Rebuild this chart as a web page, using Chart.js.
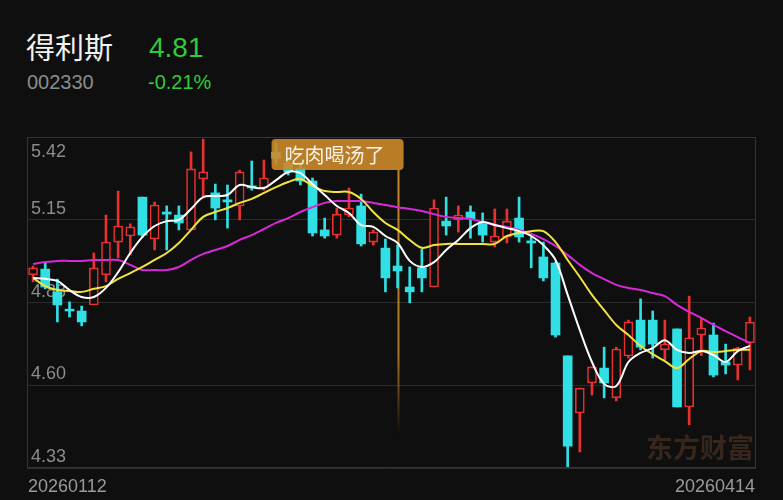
<!DOCTYPE html>
<html><head><meta charset="utf-8">
<script src="https://cdn.jsdelivr.net/npm/chart.js@4/dist/chart.umd.min.js"></script>
<style>
html,body{margin:0;padding:0;background:#0f0f0f;}
#wrap{position:relative;width:783px;height:500px;overflow:hidden;background:#0f0f0f;font-family:"Noto Sans CJK SC","Noto Sans",sans-serif;}
#c{position:absolute;left:0;top:0;}
.t{position:absolute;white-space:nowrap;line-height:1;}
</style></head><body>
<div id="wrap">
<div class="t" style="left:26px;top:32px;font-size:29px;color:#f2f2f2;">得利斯</div>
<div class="t" style="left:149px;top:34px;font-size:28px;color:#2fcb38;font-family:'Liberation Sans',Arial,sans-serif;">4.81</div>
<div class="t" style="left:27px;top:72px;font-size:20px;color:#8c8c8c;font-family:'Liberation Sans',Arial,sans-serif;">002330</div>
<div class="t" style="left:148px;top:72px;font-size:20px;color:#2fcb38;font-family:'Liberation Sans',Arial,sans-serif;">-0.21%</div>
<canvas id="c" width="783" height="500"></canvas>
</div>
<script>
const dates = ['20260112','20260113','20260114','20260115','20260116','20260119','20260120','20260121','20260122','20260123',
'20260126','20260127','20260128','20260129','20260130','20260202','20260203','20260204','20260205','20260206',
'20260209','20260210','20260211','20260212','20260213','20260224','20260225','20260226','20260227','20260302',
'20260303','20260304','20260305','20260306','20260309','20260310','20260311','20260312','20260313','20260316',
'20260317','20260318','20260319','20260320','20260323','20260324','20260325','20260326','20260327','20260330',
'20260331','20260401','20260402','20260403','20260407','20260408','20260409','20260410','20260413','20260414'];

const opens  = [4.966,4.985,4.910,4.853,4.847,4.867,4.966,5.074,5.094,5.222,
                5.084,5.173,5.163,5.114,5.282,5.236,5.213,5.193,5.259,5.252,
                5.370,5.334,5.318,5.275,5.114,5.097,5.163,5.193,5.074,5.054,
                4.995,4.926,4.989,4.926,5.143,5.147,5.173,5.137,5.074,5.091,
                5.153,5.078,5.025,5.005,4.699,4.511,4.610,4.659,4.561,4.699,
                4.817,4.817,4.719,4.788,4.531,4.768,4.768,4.679,4.669,4.742];
const highs  = [4.995,5.005,4.952,4.877,4.863,5.038,5.163,5.242,5.134,5.222,
                5.206,5.193,5.193,5.371,5.413,5.265,5.262,5.311,5.341,5.344,
                5.400,5.350,5.328,5.285,5.153,5.186,5.252,5.232,5.114,5.084,
                5.064,4.992,5.051,5.213,5.222,5.193,5.193,5.170,5.183,5.183,
                5.222,5.091,5.074,5.008,4.699,4.593,4.663,4.728,4.728,4.817,
                4.887,4.847,4.817,4.788,4.896,4.824,4.807,4.738,4.728,4.827];
const lows   = [4.943,4.920,4.811,4.827,4.798,4.867,4.943,5.022,5.031,5.090,
                5.048,5.048,5.114,5.114,5.219,5.147,5.120,5.147,5.245,5.245,
                5.330,5.295,5.262,5.094,5.087,5.087,5.157,5.061,5.064,4.910,
                4.923,4.874,4.910,4.926,5.097,5.107,5.087,5.074,5.058,5.071,
                5.074,4.989,4.946,4.761,4.333,4.383,4.570,4.561,4.551,4.692,
                4.719,4.692,4.686,4.531,4.472,4.700,4.630,4.640,4.620,4.653];
const closes = [4.989,4.926,4.867,4.847,4.811,4.989,5.074,5.127,5.124,5.097,
                5.196,5.166,5.137,5.315,5.305,5.186,5.206,5.305,5.252,5.285,
                5.350,5.305,5.275,5.104,5.094,5.166,5.186,5.068,5.107,4.956,
                4.979,4.910,4.956,5.186,5.127,5.163,5.150,5.097,5.094,5.143,
                5.091,5.071,4.956,4.768,4.402,4.593,4.663,4.610,4.722,4.811,
                4.728,4.738,4.738,4.531,4.759,4.791,4.636,4.669,4.725,4.810];

const ma5  = [4.956,4.953,4.946,4.916,4.893,4.893,4.923,4.975,5.038,5.091,
              5.127,5.143,5.147,5.183,5.222,5.226,5.229,5.262,5.255,5.252,
              5.278,5.305,5.301,5.265,5.229,5.193,5.170,5.130,5.124,5.094,
              5.071,5.012,4.992,5.008,5.048,5.081,5.120,5.140,5.130,5.120,
              5.110,5.094,5.064,5.015,4.900,4.784,4.679,4.607,4.600,4.679,
              4.709,4.725,4.751,4.719,4.709,4.715,4.702,4.679,4.715,4.732];
const ma10 = [4.956,4.929,4.916,4.913,4.910,4.920,4.929,4.953,4.972,4.992,
              5.015,5.038,5.071,5.114,5.157,5.173,5.186,5.203,5.216,5.236,
              5.255,5.272,5.282,5.259,5.242,5.239,5.239,5.216,5.173,5.137,
              5.114,5.081,5.055,5.064,5.068,5.068,5.068,5.068,5.068,5.094,
              5.104,5.110,5.110,5.074,5.015,4.959,4.900,4.850,4.801,4.768,
              4.732,4.705,4.682,4.659,4.689,4.715,4.712,4.715,4.719,4.719];
const ma20 = [5.002,5.008,5.012,5.012,5.012,5.015,5.015,5.015,4.999,4.982,
              4.982,4.982,4.992,5.015,5.035,5.048,5.061,5.081,5.097,5.117,
              5.137,5.153,5.173,5.189,5.203,5.209,5.209,5.209,5.203,5.196,
              5.189,5.183,5.176,5.166,5.157,5.153,5.150,5.140,5.130,5.124,
              5.114,5.101,5.084,5.061,5.031,4.999,4.972,4.952,4.933,4.923,
              4.916,4.906,4.896,4.867,4.844,4.824,4.801,4.781,4.761,4.742];

const yTicks = [5.42, 5.1475, 4.875, 4.6025, 4.33];
const yTickLabels = ['5.42','5.15','4.88','4.60','4.33'];
const markIndex = 30;
const markText = '吃肉喝汤了';
const watermark = '东方财富';

const UP = '#e8312f', DOWN = '#30e0e4', BG = '#0f0f0f';
const isUp = closes.map((c,i)=>c>=opens[i]);
const wickData = lows.map((l,i)=>[l,highs[i]]);
const bodyData = opens.map((o,i)=>[o,closes[i]]);

const decor = {
  id:'decor',
  beforeDatasetsDraw(chart){
    const {ctx, chartArea:a, scales} = chart;
    const y = scales.y, x = scales.x;
    ctx.save();
    ctx.font = 'bold 27px "Noto Sans CJK SC"';
    ctx.fillStyle = '#36261b';
    ctx.textAlign = 'right'; ctx.textBaseline = 'alphabetic';
    ctx.fillText(watermark, a.right - 2, a.bottom - 10);
    ctx.font = '18px "Liberation Sans", Arial, sans-serif';
    ctx.fillStyle = '#8c8c8c';
    ctx.textAlign = 'left';
    yTicks.forEach((v,i)=>{
      const py = y.getPixelForValue(v);
      const by = i===0 ? py + 20 : py - 6;
      ctx.fillText(yTickLabels[i], a.left + 4, by);
    });
    const mx = Math.round(x.getPixelForValue(markIndex)) + 0.5;
    const g = ctx.createLinearGradient(0, a.top + 33, 0, a.bottom - 35);
    g.addColorStop(0, 'rgba(200,135,40,1)');
    g.addColorStop(0.7, 'rgba(200,135,40,0.85)');
    g.addColorStop(1, 'rgba(200,135,40,0)');
    ctx.strokeStyle = g; ctx.lineWidth = 2;
    ctx.beginPath(); ctx.moveTo(mx, a.top + 33); ctx.lineTo(mx, a.bottom - 35); ctx.stroke();
    ctx.restore();
  },
  afterDatasetsDraw(chart){
    const {ctx, chartArea:a, scales} = chart;
    const x = scales.x;
    ctx.save();
    ctx.strokeStyle = '#343434'; ctx.lineWidth = 1;
    ctx.strokeRect(a.left + 0.5, a.top + 0.5, a.right - a.left - 1, a.bottom - a.top - 1);
    const mx = x.getPixelForValue(markIndex);
    const bw = 132, bh = 31;
    const bx = mx + 6 - bw, by = a.top + 2;
    ctx.fillStyle = 'rgba(204,138,42,0.9)';
    ctx.beginPath();
    if (ctx.roundRect) ctx.roundRect(bx, by, bw, bh, 4); else ctx.rect(bx, by, bw, bh);
    ctx.fill();
    ctx.fillStyle = '#f8f2e8';
    ctx.font = '20px "Noto Sans CJK SC"';
    ctx.textAlign = 'left'; ctx.textBaseline = 'middle';
    ctx.fillText(markText, bx + 13, by + bh/2 + 1);
    ctx.font = '18px "Liberation Sans", Arial, sans-serif';
    ctx.fillStyle = '#9a9a9a';
    ctx.textBaseline = 'alphabetic';
    ctx.textAlign = 'left';
    ctx.fillText(dates[0], a.left + 1, a.bottom + 24);
    ctx.textAlign = 'right';
    ctx.fillText(dates[dates.length-1], a.right - 1, a.bottom + 24);
    ctx.restore();
  }
};

new Chart(document.getElementById('c'), {
  type:'bar',
  data:{
    labels: dates,
    datasets:[
      {type:'line', label:'MA5', data:ma5, borderColor:'#ffffff', borderWidth:2, pointRadius:0, tension:0.35, order:0},
      {type:'line', label:'MA10', data:ma10, borderColor:'#f2e43c', borderWidth:2, pointRadius:0, tension:0.35, order:1},
      {type:'line', label:'MA20', data:ma20, borderColor:'#d62ad8', borderWidth:2, pointRadius:0, tension:0.35, order:2},
      {label:'body', data:bodyData, grouped:false, barThickness:9,
        backgroundColor: isUp.map(u=>u?BG:DOWN), borderColor: isUp.map(u=>u?UP:DOWN),
        borderWidth: isUp.map(u=>u?1.6:0), borderSkipped:false, order:3},
      {label:'wick', data:wickData, grouped:false, barThickness:2,
        backgroundColor: isUp.map(u=>u?UP:DOWN), borderWidth:0, order:4}
    ]
  },
  options:{
    responsive:false, animation:false, devicePixelRatio:1,
    layout:{padding:{left:27, right:27, top:137, bottom:32}},
    plugins:{legend:{display:false}, tooltip:{enabled:false}},
    scales:{
      x:{type:'category', offset:true, grid:{display:false, drawTicks:false}, border:{display:false}, ticks:{display:false}},
      y:{min:4.33, max:5.42, grid:{color:'#2c2c2c', drawTicks:false, lineWidth:1}, border:{display:false},
         ticks:{display:false},
         afterBuildTicks:(s)=>{ s.ticks = yTicks.map(v=>({value:v})); }}
    }
  },
  plugins:[decor]
});
</script>
</body></html>
